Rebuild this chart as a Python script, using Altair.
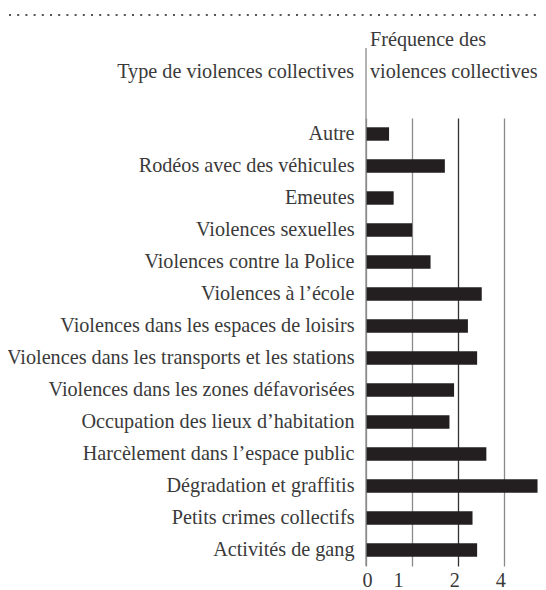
import altair as alt
import pandas as pd

categories = [
    "Autre",
    "Rodéos avec des véhicules",
    "Emeutes",
    "Violences sexuelles",
    "Violences contre la Police",
    "Violences à l'école",
    "Violences dans les espaces de loisirs",
    "Violences dans les transports et les stations",
    "Violences dans les zones défavorisées",
    "Occupation des lieux d'habitation",
    "Harcèlement dans l'espace public",
    "Dégradation et graffitis",
    "Petits crimes collectifs",
    "Activités de gang",
]
categories = [c.replace("'", "\u2019") for c in categories]
values = [0.50, 1.71, 0.60, 1.00, 1.40, 2.51, 2.21, 2.41, 1.91, 1.81, 2.61, 3.72, 2.31, 2.41]
tick_values = [0, 1, 2, 3]
tick_labels = ["0", "1", "2", "4"]
left_title = "Type de violences collectives"
right_title = ["Fréquence des", "violences collectives"]

FONT = "Liberation Serif"
FS = 20.2
TXT = "#3a3a3a"
W, H = 172, 448
TOP = 110
LEFT = 358

df = pd.DataFrame({"cat": categories, "val": values})

label_expr = " : ".join(
    [f"datum.value == {v} ? '{l}'" for v, l in zip(tick_values, tick_labels)] + ["datum.label"]
)

bars = alt.Chart(df).mark_bar(color="#231f20").encode(
    y=alt.Y(
        "cat:N",
        sort=categories,
        title=None,
        scale=alt.Scale(paddingInner=0.58, paddingOuter=0.29),
        axis=alt.Axis(
            ticks=False, domain=False, labelPadding=12, labelFont=FONT,
            labelFontSize=FS, labelColor=TXT, labelLimit=0,
        ),
    ),
    x=alt.X(
        "val:Q",
        title=None,
        scale=alt.Scale(domain=[0, 3.73], nice=False),
        axis=alt.Axis(
            values=tick_values, labelExpr=label_expr, ticks=False, domain=False,
            labelPadding=4, labelFont=FONT, labelFontSize=FS, labelColor=TXT,
            labelOffset={"condition": {"test": "datum.value === 1", "value": -14}, "value": -4},
            grid=True, gridWidth=1.3,
            gridColor={"condition": {"test": "datum.value === 2", "value": "#333333"}, "value": "#8a8a8a"},
        ),
    ),
)

zero_line = alt.Chart(pd.DataFrame({"v": [0]})).mark_rule(color="#8a8a8a", strokeWidth=1.3).encode(
    x=alt.X("v:Q"), y=alt.value(48 - 8 - TOP), y2=alt.value(H)
)

dots = alt.Chart(pd.DataFrame({"v": [0]})).mark_rule(
    color="#555555", strokeWidth=2, strokeDash=[2, 6.2]
).encode(x=alt.value(-LEFT + 1), x2=alt.value(W), y=alt.value(15 - 8 - TOP))

hdr_left = alt.Chart(pd.DataFrame({"t": [left_title]})).mark_text(
    font=FONT, fontSize=FS, color=TXT, align="right", baseline="alphabetic"
).encode(x=alt.value(-12), y=alt.value(78 - 8 - TOP), text="t:N")

hdr_right = alt.Chart(pd.DataFrame({"t": right_title, "dy": [46 - 8 - TOP, 78 - 8 - TOP]})).mark_text(
    font=FONT, fontSize=FS, color=TXT, align="left", baseline="alphabetic"
).encode(x=alt.value(4), y=alt.Y("dy:Q", scale=None), text="t:N")

chart = alt.layer(bars, zero_line, dots, hdr_left, hdr_right).properties(
    width=W, height=H,
    autosize=alt.AutoSizeParams(type="none"),
    padding={"left": LEFT, "top": TOP, "right": 0, "bottom": 24},
).configure_view(stroke=None)

chart.save("out.html", embed_options={"renderer": "svg", "actions": False})
